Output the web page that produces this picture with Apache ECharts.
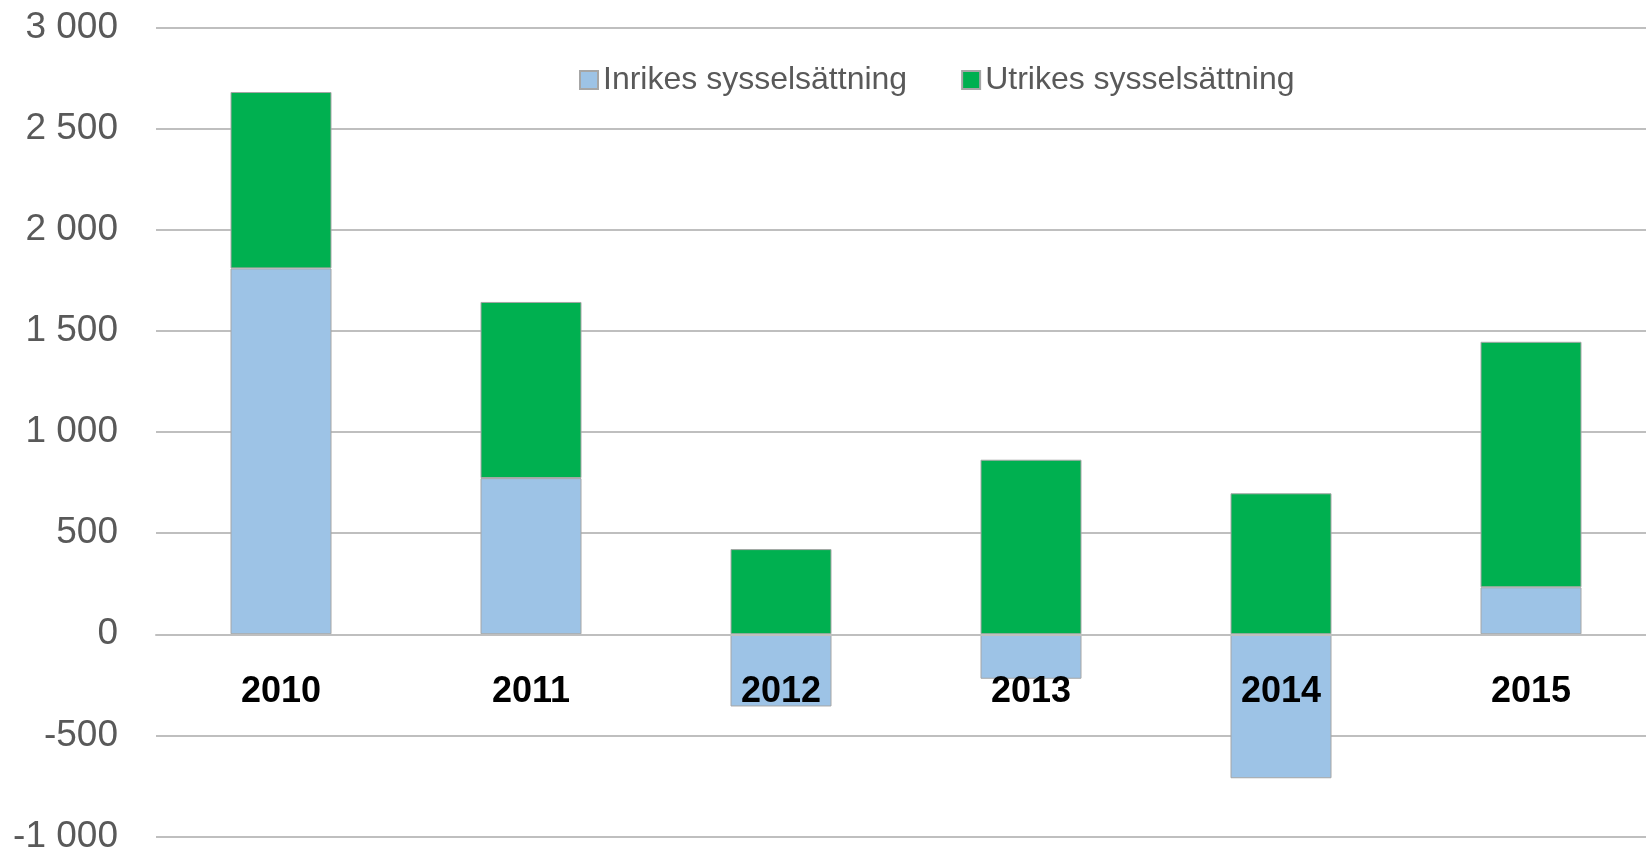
<!DOCTYPE html>
<html>
<head>
<meta charset="utf-8">
<title>Sysselsättning</title>
<script src="https://cdn.jsdelivr.net/npm/echarts@6/dist/echarts.min.js"></script>
<style>
  html, body {
    margin: 0;
    padding: 0;
    background: #ffffff;
  }
  #chart {
    width: 1646px;
    height: 851px;
  }
</style>
</head>
<body>
<div id="chart"></div>
<script>
// data
const years = ['2010', '2011', '2012', '2013', '2014', '2015']
const inrikes = [1809, 772, -357, -220, -712, 232]
const utrikes = [872, 871, 421, 863, 697, 1214]

// "3000" -> "3 000"
const fmt = (v) => {
  const s = String(Math.abs(v)).replace(/\B(?=(\d{3})+(?!\d))/g, ' ')
  return (v < 0 ? '-' : '') + s
}

const gridTop = 27.5
const gridBottom = 14.5
const yMin = -1000
const yMax = 3000
// distance from the bottom edge of the grid up to the zero line
const zeroOffset = (851 - gridTop - gridBottom) * (0 - yMin) / (yMax - yMin)

const myChart = echarts.init(document.getElementById('chart'))
const option = {
  animation: false,
  legend: {
    data: ['Inrikes sysselsättning', 'Utrikes sysselsättning'],
    left: 574,
    top: 59,
    icon: 'rect',
    itemWidth: 18,
    itemHeight: 18,
    itemGap: 54,
    textStyle: {
      fontFamily: 'Liberation Sans',
      fontSize: 32,
      color: '#595959',
    },
  },
  grid: {
    left: 156,
    width: 1500, // last category runs past the right edge
    top: gridTop,
    bottom: gridBottom,
    outerBoundsMode: 'none',
    containLabel: false,
  },
  xAxis: {
    type: 'category',
    data: years,
    z: 10, // axis line and labels above the bars
    position: 'bottom',
    offset: -zeroOffset, // sit on the zero line
    axisLine: {
      onZero: false,
      lineStyle: { color: '#bfbfbf', width: 2 },
    },
    axisTick: { show: false },
    axisLabel: {
      margin: 40,
      fontFamily: 'Liberation Sans',
      fontSize: 36,
      fontWeight: 'bold',
      color: '#000000',
    },
  },
  yAxis: {
    type: 'value',
    min: yMin,
    max: yMax,
    interval: 500,
    axisLine: { show: false },
    axisTick: { show: false },
    splitLine: {
      lineStyle: { color: '#bfbfbf', width: 2 },
    },
    axisLabel: {
      margin: 38,
      fontFamily: 'Liberation Sans',
      fontSize: 37,
      color: '#595959',
      formatter: fmt,
    },
  },
  series: [
    {
      name: 'Inrikes sysselsättning',
      type: 'bar',
      stack: 'total',
      data: inrikes,
      barWidth: 101,
      itemStyle: {
        color: '#9dc3e6',
        borderColor: '#a6a6a6',
        borderWidth: 1,
      },
    },
    {
      name: 'Utrikes sysselsättning',
      type: 'bar',
      stack: 'total',
      data: utrikes,
      barWidth: 101,
      itemStyle: {
        color: '#00b050',
        borderColor: '#a6a6a6',
        borderWidth: 1,
      },
    },
  ],
}
myChart.setOption(option)
</script>
</body>
</html>
